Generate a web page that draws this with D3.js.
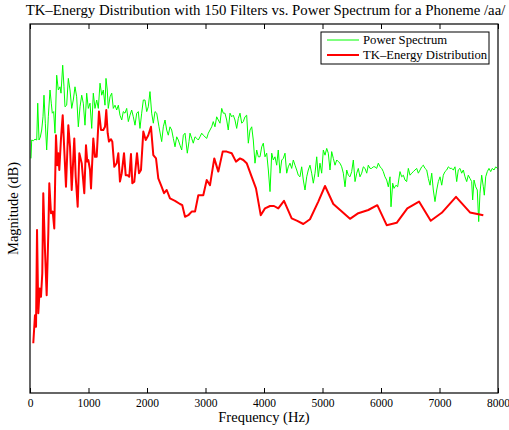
<!DOCTYPE html>
<html><head><meta charset="utf-8">
<script src="https://cdn.jsdelivr.net/npm/d3@7"></script>
<style>body{margin:0;background:#fff;overflow:hidden}</style>
</head><body><svg id="c" width="509" height="430"></svg>
<script>
const titleText = "TK\u2013Energy Distribution with 150 Filters vs. Power Spectrum for a Phoneme /aa/";
const xLabel = "Frequency (Hz)";
const yLabel = "Magnitude (dB)";
const seriesNames = ["Power Spectrum", "TK\u2013Energy Distribution"];
const xTickValues = [0,1000,2000,3000,4000,5000,6000,7000,8000];

const psFreq = [17,29,56,85,115,132,154,176,200,222,239,262,285,313,342,364,381,405,427,456,484,513,530,559,581,598,627,655,684,713,740,769,798,826,855,884,911,940,969,997,1026,1055,1082,1111,1140,1168,1197,1226,1253,1282,1299,1321,1338,1368,1397,1424,1453,1482,1510,1538,1568,1595,1624,1653,1681,1709,1738,1766,1795,1824,1851,1880,1909,1937,1966,1995,2022,2051,
2080,2108,2137,2166,2205,2251,2279,2308,2337,2364,2393,2422,2450,2479,2508,2535,2564,2593,2621,2650,2689,2718,2735,2764,2791,2821,2850,2877,2906,2935,2962,2991,3021,3048,3077,3106,3133,3162,3191,3219,3248,3277,3304,3333,3362,3389,3419,3448,3475,3504,3533,3561,3590,3619,3646,3675,3704,3732,3761,3790,3817,3846,3875,3903,3932,3961,3988,4017,4046,4074,4103,4132,4159,4188,4217,4244,4274,4303,4330,4359,4388,4415,4444,4473,4501,4530,4559,4586,4615,4644,4672,4701,4730,4757,4786,4815,4843,4872,4901,4928,4957,4986,5014,5043,5072,5099,5128,5157,5185,5214,5243,5270,5299,5328,5356,5385,5414,5441,5470,5499,5527,5556,5585,5612,5641,5670,5698,5727,5756,5783,5812,5841,5868,5897,5926,5954,5983,6012,6039,6068,6097,6125,6154,6171,6200,6222,6256,6285,6325,6354,6382,6410,6439,6467,6496,6525,6553,6581,6610,6638,6667,6696,6724,6752,6781,6809,6838,6867,6894,6923,6952,6980,7009,7038,7065,7094,7123,7151,7179,7208,7236,7265,7294,7321,7350,7379,7407,7436,7465,7492,7521,7550,7567,7590,7619,7646,7670,7692,7721,7749,7766,7790,7817,7846,7875,7902,7932,7961,7988];
const psDb = [-33.6,-29.0,-29.2,-28.8,-29.0,-19.8,-29.0,-28.3,-26.5,-23.2,-17.8,-24.8,-31.5,-23.2,-16.5,-19.8,-22.3,-21.9,-27.3,-12.8,-16.5,-15.7,-17.3,-10.3,-15.7,-20.7,-20.3,-13.6,-16.5,-21.1,-19.0,-15.7,-18.2,-25.7,-20.7,-17.8,-19.8,-25.3,-17.3,-21.1,-19.8,-26.1,-17.3,-21.1,-19.0,-21.1,-14.8,-17.8,-16.5,-20.3,-13.6,-16.5,-21.1,-18.2,-17.3,-21.1,-20.3,-21.5,-20.3,-22.8,-24.0,-21.9,-22.3,-21.1,-24.4,-22.8,-21.5,-23.2,-25.3,-22.3,-21.9,-26.1,-22.3,-19.0,-19.0,-21.9,-20.7,-16.9,
-22.3,-24.8,-21.9,-22.3,-25.7,-29.4,-25.7,-24.0,-26.5,-27.8,-25.7,-26.5,-28.6,-30.7,-28.2,-29.0,-30.3,-31.5,-27.8,-27.3,-32.3,-29.4,-27.3,-28.6,-29.8,-28.2,-28.6,-29.0,-28.2,-27.3,-27.8,-28.2,-28.6,-27.3,-26.5,-25.7,-24.4,-25.7,-23.2,-24.0,-24.8,-21.1,-22.3,-22.3,-24.0,-26.5,-22.3,-23.2,-22.8,-24.0,-26.1,-23.6,-22.3,-24.8,-24.4,-23.2,-22.8,-29.8,-26.5,-25.7,-29.0,-34.8,-31.5,-33.2,-33.2,-30.7,-29.8,-33.2,-32.3,-36.5,-41.9,-32.3,-34.0,-33.2,-35.3,-31.5,-37.3,-34.0,-33.6,-32.3,-37.3,-35.7,-34.8,-36.1,-34.0,-35.3,-36.5,-37.8,-38.2,-35.7,-39.0,-41.5,-38.2,-36.5,-35.3,-37.3,-39.8,-37.3,-33.2,-38.2,-34.8,-37.3,-31.5,-32.8,-31.1,-32.3,-36.5,-31.9,-33.6,-35.3,-34.0,-34.4,-34.8,-35.7,-37.3,-40.7,-36.5,-37.8,-38.2,-36.9,-34.0,-39.4,-37.3,-36.1,-38.2,-37.3,-35.7,-36.1,-37.3,-35.3,-36.1,-36.1,-35.7,-35.7,-36.1,-34.8,-35.7,-36.1,-36.9,-38.2,-39.0,-40.7,-38.2,-45.7,-39.8,-41.1,-40.3,-40.7,-36.9,-38.2,-37.8,-39.0,-39.4,-36.1,-37.8,-37.3,-36.9,-36.5,-36.1,-37.3,-36.5,-35.7,-35.3,-36.1,-36.5,-38.6,-40.3,-37.3,-41.5,-44.4,-41.5,-39.4,-38.2,-40.3,-37.8,-36.9,-36.5,-35.7,-36.1,-36.1,-36.5,-35.7,-39.4,-36.5,-36.1,-37.3,-36.5,-38.2,-39.4,-37.8,-38.6,-39.4,-44.0,-39.0,-40.7,-41.5,-49.4,-42.3,-37.8,-40.7,-42.8,-38.2,-36.9,-36.1,-36.9,-36.1,-36.5,-35.7,-36.1];

const tkFreq = [56,85,103,120,142,166,188,210,227,256,285,313,330,359,388,415,444,467,484,501,530,559,586,615,655,684,713,757,781,815,843,884,928,957,979,997,1026,1043,1082,1111,1140,1179,1214,1253,1282,1304,1328,1350,1385,1407,1441,1482,1510,1538,1568,1607,1636,1670,1697,1726,1749,1783,1829,1863,1897,1937,1978,2022,2068,2108,2154,2193,2251,2291,2337,2393,2479,2564,2603,2650,2706,2764,2821,2877,2962,3021,3077,3150,3219,3294,3362,3448,3521,3590,3646,3704,3790,3863,3944,4017,4103,4171,4244,4342,4473,4569,4672,4786,4928,5043,5185,5470,5612,5783,5937,6097,6268,6450,6650,6850,7038,7282,7521,7749];
const tkDb = [-79.8,-72.8,-75.7,-51.5,-72.3,-66.1,-68.2,-62.3,-42.3,-56.5,-67.8,-52.3,-39.8,-47.3,-46.9,-51.1,-27.8,-35.3,-32.3,-36.5,-28.6,-22.8,-31.5,-40.7,-25.3,-30.7,-41.5,-28.6,-38.2,-45.7,-32.3,-34.8,-42.3,-30.3,-34.4,-34.0,-36.5,-41.1,-28.6,-33.2,-33.2,-21.9,-26.5,-26.5,-25.7,-21.5,-27.3,-29.4,-28.8,-29.4,-35.7,-34.8,-32.3,-39.4,-37.3,-32.3,-37.8,-37.8,-38.2,-32.5,-39.8,-39.4,-32.3,-37.3,-36.5,-26.9,-29.0,-27.8,-25.7,-32.8,-33.6,-38.6,-40.7,-42.3,-41.5,-43.6,-44.2,-45.0,-45.3,-48.2,-47.8,-46.9,-46.9,-42.8,-42.8,-39.0,-40.3,-33.6,-36.9,-31.9,-31.9,-32.3,-34.4,-33.6,-34.0,-34.8,-38.2,-41.1,-47.8,-46.1,-45.5,-45.5,-46.1,-44.2,-48.6,-49.2,-50.0,-48.8,-44.4,-40.5,-45.0,-48.7,-47.3,-46.5,-45.3,-50.3,-49.7,-46.1,-44.4,-49.2,-47.2,-43.2,-47.1,-47.8];

const svg = d3.select("#c");
const font = "'Liberation Serif','Times New Roman',serif";
const m = {l:30, r:498, t:24, b:393};
const x = d3.scaleLinear().domain([0,8000]).range([m.l, m.r]);
const y = d3.scaleLinear().domain([-92.25, 0]).range([m.b, m.t]);

svg.append("rect").attr("width",509).attr("height",430).attr("fill","#fff");

svg.append("clipPath").attr("id","pc").append("rect")
  .attr("x",m.l).attr("y",m.t).attr("width",m.r-m.l).attr("height",m.b-m.t);

const ps = psFreq.map((f,i)=>[f, psDb[i]]);
const tk = tkFreq.map((f,i)=>[f, tkDb[i]]);
const line = d3.line().x(d=>x(d[0])).y(d=>y(d[1]));

const g = svg.append("g").attr("clip-path","url(#pc)");
g.append("path").datum(ps).attr("d",line).attr("fill","none").attr("stroke","#00ff00").attr("stroke-width",1).attr("stroke-linejoin","round");
g.append("path").datum(tk).attr("d",line).attr("fill","none").attr("stroke","#ff0000").attr("stroke-width",2).attr("stroke-linejoin","round");

// axes
const bottomAxis = d3.axisBottom(x).tickValues(xTickValues).tickSizeInner(-5).tickSizeOuter(0).tickPadding(6).tickFormat(d3.format("d"));
const ga = svg.append("g").attr("transform",`translate(0,${m.b})`).call(bottomAxis);
ga.select(".domain").remove();
ga.selectAll("text").attr("font-family",font).attr("font-size",11.5).attr("fill","#000");
ga.selectAll("line").attr("stroke","#000");
const topAxis = d3.axisTop(x).tickValues(xTickValues).tickSizeInner(-5).tickSizeOuter(0).tickFormat("");
const gt = svg.append("g").attr("transform",`translate(0,${m.t})`).call(topAxis);
gt.select(".domain").remove();
gt.selectAll("line").attr("stroke","#000");

svg.append("rect").attr("x",m.l).attr("y",m.t).attr("width",m.r-m.l).attr("height",m.b-m.t)
  .attr("fill","none").attr("stroke","#000").attr("stroke-width",1.2);

svg.append("text").attr("x",265.5).attr("y",15).attr("text-anchor","middle")
  .attr("font-family",font).attr("font-size",14.8).text(titleText);
svg.append("text").attr("x",264).attr("y",421.5).attr("text-anchor","middle")
  .attr("font-family",font).attr("font-size",14.5).text(xLabel);
svg.append("text").attr("transform",`translate(18,${(m.t+m.b)/2}) rotate(-90)`).attr("text-anchor","middle")
  .attr("font-family",font).attr("font-size",14.5).text(yLabel);

// legend
const lg = svg.append("g");
lg.append("rect").attr("x",321).attr("y",32).attr("width",168).attr("height",32)
  .attr("fill","#fff").attr("stroke","#000").attr("stroke-width",1);
const colors = ["#00ff00","#ff0000"], widths=[1,2];
seriesNames.forEach((n,i)=>{
  const yy = 40 + i*15;
  lg.append("line").attr("x1",327).attr("x2",359).attr("y1",yy).attr("y2",yy)
    .attr("stroke",colors[i]).attr("stroke-width",widths[i]);
  lg.append("text").attr("x",363).attr("y",yy+4).attr("font-family",font).attr("font-size",12.7).text(n);
});
</script></body></html>
